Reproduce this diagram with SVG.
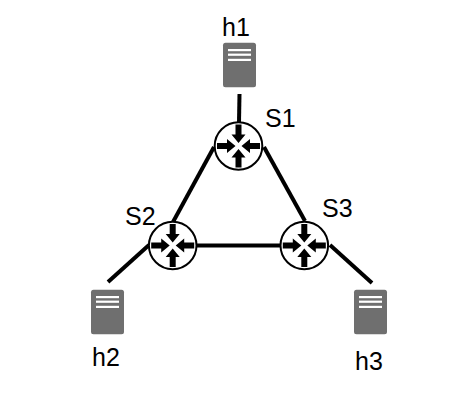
<svg xmlns="http://www.w3.org/2000/svg" width="454" height="414" viewBox="0 0 454 414">
<style>
text{font-family:"Liberation Sans",Arial,sans-serif;font-size:25px;fill:#000}
.link{stroke:#000;stroke-width:4;fill:none}
.bar{fill:#fff}
.srv{fill:#6f6f6f}
.ring{fill:#fff;stroke:#000;stroke-width:2}
</style>
<defs>
<symbol id="server" overflow="visible">
<rect class="srv" width="33" height="44.5" rx="2.5"/>
<rect class="bar" x="5" y="6.2" width="23" height="2.2"/>
<rect class="bar" x="5" y="10.8" width="23" height="2.2"/>
<rect class="bar" x="5" y="16" width="23" height="2.2"/>
</symbol>
<path id="arr" d="M-3-21.500H3V-11.500H7L0-3L-7-11.500H-3Z"/>
<g id="router">
<circle class="ring" r="23.800"/>
<use href="#arr"/>
<use href="#arr" transform="rotate(90)"/>
<use href="#arr" transform="rotate(180)"/>
<use href="#arr" transform="rotate(270)"/>
</g>
</defs>
<g id="connectors">
<path class="link" d="M239.500 94L239 122"/>
<path class="link" d="M214 147L173 222"/>
<path class="link" d="M264 147L305 221"/>
<path class="link" d="M197 245.500H280"/>
<path class="link" d="M149 245L108 282"/>
<path class="link" d="M330 245L372 283"/>
</g>
<g id="h1"><use href="#server" x="223" y="42.800"/><text x="222" y="36">h1</text></g>
<g id="h2"><use href="#server" x="91" y="289.800"/><text x="92" y="366">h2</text></g>
<g id="h3"><use href="#server" x="354" y="289.800"/><text x="355" y="370">h3</text></g>
<g id="S1"><use href="#router" x="238.500" y="146"/><text x="265" y="127">S1</text></g>
<g id="S2"><use href="#router" x="172.700" y="245.500"/><text x="125" y="225">S2</text></g>
<g id="S3"><use href="#router" x="304.300" y="245.500"/><text x="322" y="217">S3</text></g>
</svg>
